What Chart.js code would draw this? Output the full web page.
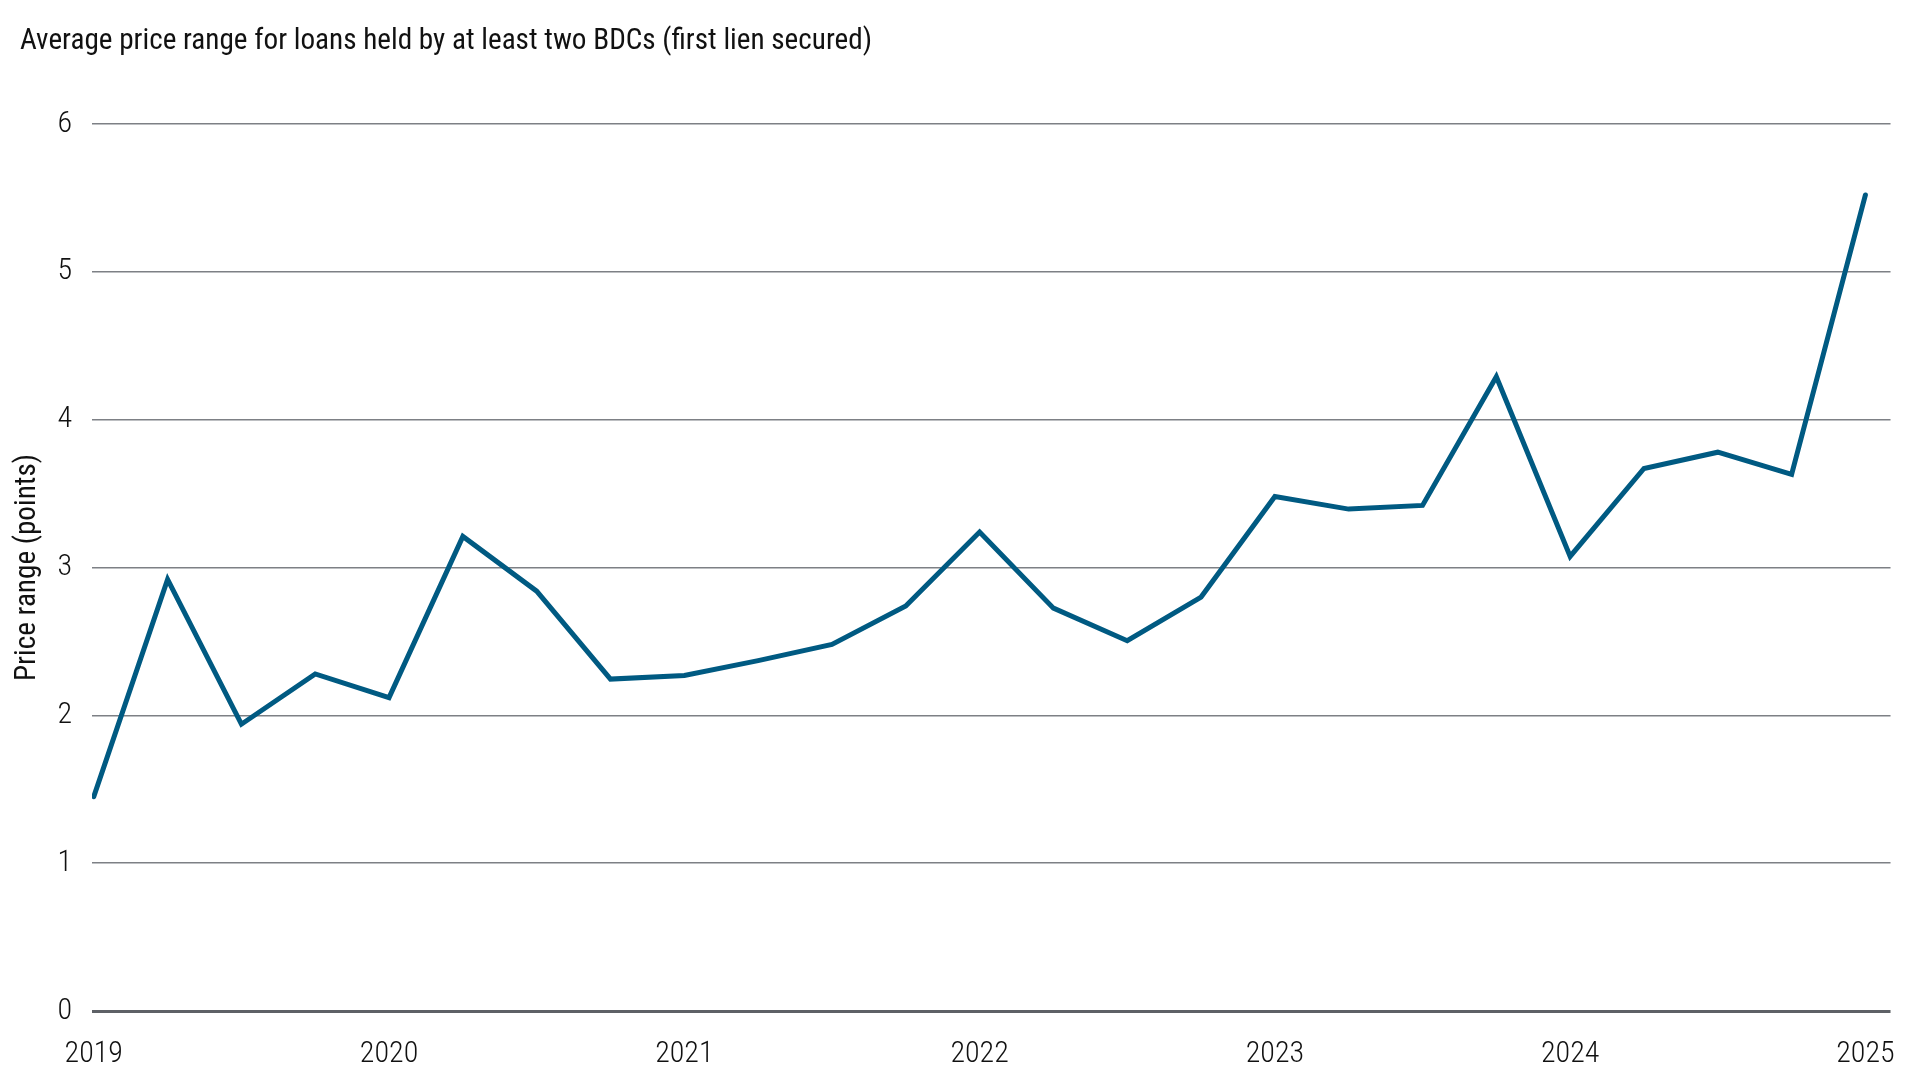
<!DOCTYPE html>
<html>
<head>
<meta charset="utf-8">
<script src="https://cdn.jsdelivr.net/npm/chart.js@4.4.1/dist/chart.umd.min.js"></script>
<style>
  html, body { margin: 0; padding: 0; background: #fff; }
  #wrap { width: 1920px; height: 1080px; }
</style>
</head>
<body>
<div id="wrap"><canvas id="priceChart" width="1920" height="1080"></canvas></div>
<script>
const chartTitle = 'Average price range for loans held by at least two BDCs (first lien secured)';
const yAxisTitle = 'Price range (points)';

const quarters = [
  '2019 Q1', '2019 Q2', '2019 Q3', '2019 Q4',
  '2020 Q1', '2020 Q2', '2020 Q3', '2020 Q4',
  '2021 Q1', '2021 Q2', '2021 Q3', '2021 Q4',
  '2022 Q1', '2022 Q2', '2022 Q3', '2022 Q4',
  '2023 Q1', '2023 Q2', '2023 Q3', '2023 Q4',
  '2024 Q1', '2024 Q2', '2024 Q3', '2024 Q4',
  '2025 Q1'
];
const priceRange = [
  1.45, 2.92, 1.94, 2.28,
  2.12, 3.21, 2.84, 2.245,
  2.27, 2.37, 2.48, 2.74,
  3.24, 2.725, 2.505, 2.80,
  3.48, 3.395, 3.42, 4.29,
  3.075, 3.67, 3.78, 3.63,
  5.52
];
const yearTicks = [2019, 2020, 2021, 2022, 2023, 2024, 2025];
const yTicks = [0, 1, 2, 3, 4, 5, 6];

// pick the first condensed face that is really installed
function pickFont(list) {
  const c = document.createElement('canvas').getContext('2d');
  const sample = 'Average price range 0123456789';
  c.font = '40px monospace';
  const base = c.measureText(sample).width;
  for (const f of list) {
    c.font = `40px "${f}", monospace`;
    if (Math.abs(c.measureText(sample).width - base) > 0.5) return f;
  }
  return 'Roboto';
}
const fontName = pickFont(['Roboto Condensed', 'Liberation Sans Narrow', 'DejaVu Sans Condensed', 'Arial Narrow']);
const family = `"${fontName}", Roboto, sans-serif`;

// points sit on fractional years: 2019 Q1 -> 2019.0, 2019 Q2 -> 2019.25 ...
const points = quarters.map((q, i) => {
  const [yr, qq] = q.split(' Q');
  return { x: Number(yr) + (Number(qq) - 1) / 4, y: priceRange[i] };
});

const titlePlugin = {
  id: 'leftTitle',
  afterDraw(chart) {
    const ctx = chart.ctx;
    ctx.save();
    ctx.font = `29.2px ${family}`;
    ctx.fillStyle = '#111';
    ctx.textAlign = 'left';
    ctx.textBaseline = 'middle';
    ctx.fillText(chartTitle, 20, 42);
    ctx.restore();
  }
};

const ctx = document.getElementById('priceChart').getContext('2d');
new Chart(ctx, {
  type: 'line',
  data: {
    datasets: [{
      label: yAxisTitle,
      data: points,
      borderColor: '#005a82',
      borderWidth: 5,
      borderJoinStyle: 'miter',
      borderCapStyle: 'round',
      pointRadius: 0,
      pointHoverRadius: 0,
      tension: 0,
      fill: false
    }]
  },
  options: {
    responsive: false,
    devicePixelRatio: 1,
    animation: false,
    layout: { padding: { top: 124, right: 28, bottom: 0, left: 0 } },
    plugins: {
      legend: { display: false },
      title: { display: false },
      tooltip: { enabled: false }
    },
    scales: {
      x: {
        type: 'linear',
        min: yearTicks[0] - 0.006,
        max: yearTicks[yearTicks.length - 1] + 0.085,
        grid: { display: false, drawTicks: false },
        border: { display: false },
        afterBuildTicks: (axis) => { axis.ticks = yearTicks.map(v => ({ value: v })); },
        afterFit: (axis) => { axis.height = 69; },
        ticks: {
          autoSkip: false,
          maxRotation: 0,
          padding: 25,
          color: '#111',
          font: { family: family, size: 30, weight: 300 },
          callback: (v) => String(v)
        }
      },
      y: {
        min: yTicks[0],
        max: yTicks[yTicks.length - 1],
        afterBuildTicks: (axis) => { axis.ticks = yTicks.map(v => ({ value: v })); },
        afterFit: (axis) => { axis.width = 92; },
        grid: {
          drawTicks: false,
          color: (c) => c.tick && c.tick.value === 0 ? '#5e6166' : '#7d8085',
          lineWidth: (c) => c.tick && c.tick.value === 0 ? 3 : 1.6
        },
        border: { display: false },
        ticks: {
          padding: 20,
          color: '#111',
          font: { family: family, size: 30, weight: 300 }
        },
        title: {
          display: true,
          text: yAxisTitle,
          color: '#111',
          font: { family: family, size: 29.2 },
          padding: { top: 10, bottom: 0 }
        }
      }
    }
  },
  plugins: [titlePlugin]
});
</script>
</body>
</html>
